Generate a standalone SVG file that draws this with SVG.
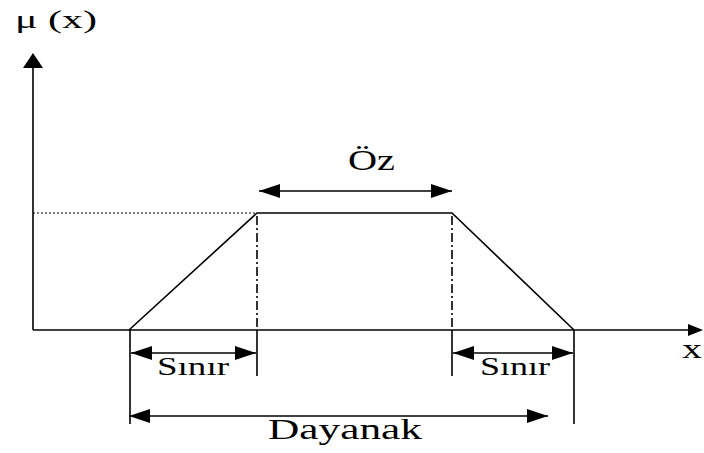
<svg xmlns="http://www.w3.org/2000/svg" width="704" height="453" viewBox="0 0 704 453">
<defs>
<style>
.ln{stroke:#000;stroke-width:1.6;fill:none}
.thin{stroke:#000;stroke-width:1.5;fill:none}
.dot{stroke:#000;stroke-width:1.2;fill:none;stroke-dasharray:2 2}
.dd{stroke:#000;stroke-width:1.6;fill:none;stroke-dasharray:9 3 2 3}
.t{font-family:"Liberation Serif","Times New Roman",serif;fill:#000}
</style>
<marker id="ah" markerUnits="userSpaceOnUse" viewBox="0 0 21 14" refX="21" refY="7" markerWidth="21" markerHeight="14" orient="auto-start-reverse">
<path d="M0,0 L21,7 L0,14 Z" fill="#000"/>
</marker>
</defs>
<rect width="704" height="453" fill="#fff"/>
<g id="axes">
<line class="ln" x1="33" y1="330" x2="33" y2="66"/>
<polygon points="33,53 23,68 43,68" fill="#000"/>
<line class="ln" x1="33" y1="330" x2="690" y2="330"/>
<polygon points="703,330 688,324 688,336" fill="#000"/>
<text class="t" x="15" y="28" font-size="25" textLength="82" lengthAdjust="spacingAndGlyphs">μ (x)</text>
<text class="t" x="682" y="358" font-size="28" textLength="20" lengthAdjust="spacingAndGlyphs">x</text>
</g>
<g id="membership">
<polyline class="ln" points="129,330 257,213 452,213 574,330"/>
<line class="dot" x1="33" y1="213" x2="257" y2="213"/>
<line class="dd" x1="257" y1="216" x2="257" y2="330"/>
<line class="dd" x1="452" y1="216" x2="452" y2="330"/>
</g>
<g id="connectors">
<line class="ln" x1="257" y1="330" x2="257" y2="376"/>
<line class="ln" x1="452" y1="330" x2="452" y2="376"/>
<line class="ln" x1="130" y1="330" x2="130" y2="424"/>
<line class="ln" x1="574" y1="330" x2="574" y2="424"/>
<line class="thin" x1="259" y1="191" x2="452" y2="191" marker-start="url(#ah)" marker-end="url(#ah)"/>
<line class="thin" x1="131" y1="353" x2="256" y2="353" marker-start="url(#ah)" marker-end="url(#ah)"/>
<line class="thin" x1="453" y1="353" x2="573" y2="353" marker-start="url(#ah)" marker-end="url(#ah)"/>
<line class="thin" x1="129" y1="416" x2="548" y2="416" marker-start="url(#ah)" marker-end="url(#ah)"/>
</g>
<g id="labels">
<text class="t" x="348" y="170" font-size="29" textLength="47" lengthAdjust="spacingAndGlyphs">Öz</text>
<text class="t" x="157" y="375" font-size="25" textLength="72" lengthAdjust="spacingAndGlyphs">Sınır</text>
<text class="t" x="480" y="375" font-size="25" textLength="70" lengthAdjust="spacingAndGlyphs">Sınır</text>
<text class="t" x="268" y="439" font-size="29" textLength="154" lengthAdjust="spacingAndGlyphs">Dayanak</text>
</g>
</svg>
